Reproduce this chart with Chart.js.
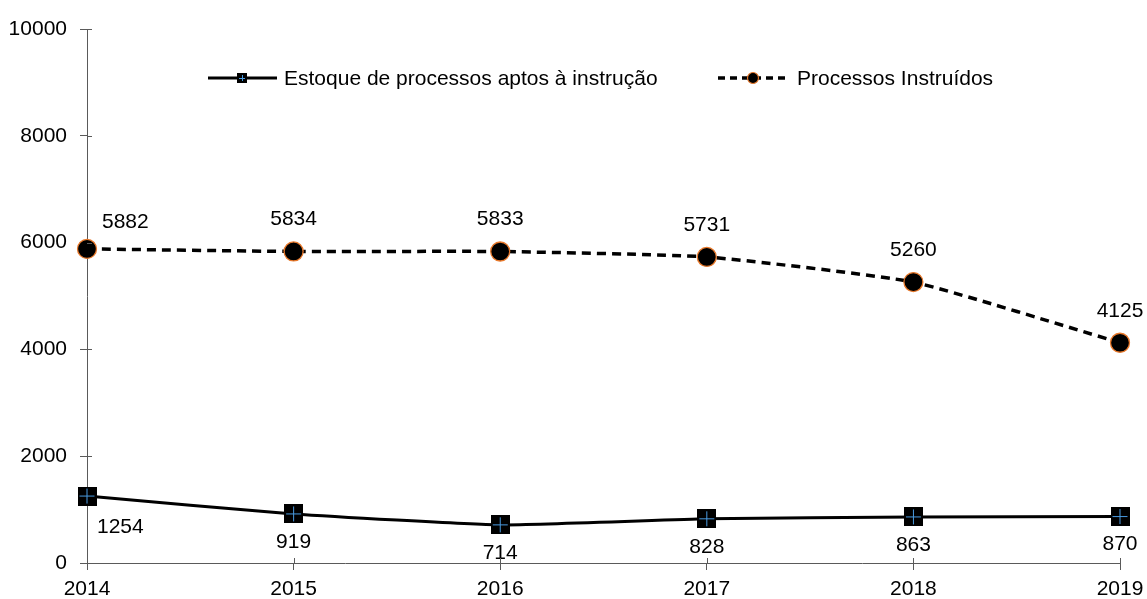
<!DOCTYPE html>
<html>
<head>
<meta charset="utf-8">
<script src="https://cdn.jsdelivr.net/npm/chart.js@4.4.1/dist/chart.umd.min.js"></script>
<style>
  html, body { margin: 0; padding: 0; background: #fff; }
  #wrap { width: 1147px; height: 599px; }
</style>
</head>
<body>
<div id="wrap"><canvas id="chart" width="1147" height="599"></canvas></div>
<script>
// data
const years = ['2014', '2015', '2016', '2017', '2018', '2019'];
const estoque = [1254, 919, 714, 828, 863, 870];
const instruidos = [5882, 5834, 5833, 5731, 5260, 4125];
const seriesNames = ['Estoque de processos aptos à instrução', 'Processos Instruídos'];
const yMin = 0, yMax = 10000, yStep = 2000;

const FONT = "'Liberation Sans', Arial, sans-serif";
const FSIZE = 21;
const AXIS = '#5a5a5a';
const ORANGE = '#E8782A';
const BLUE = '#4A9BE0';

// square marker with a thin blue cross, as in the original
function squareMarker(side) {
  const c = document.createElement('canvas');
  c.width = side; c.height = side;
  const g = c.getContext('2d');
  g.fillStyle = '#000';
  g.fillRect(0, 0, side, side);
  g.strokeStyle = BLUE;
  g.lineWidth = 1;
  const m = Math.floor(side / 2) + 0.5;
  g.beginPath();
  g.moveTo(m, 2); g.lineTo(m, side - 2);
  g.moveTo(2, m); g.lineTo(side - 2, m);
  g.stroke();
  return c;
}
const bigSquare = squareMarker(19);
const smallSquare = squareMarker(10);

// crossing ticks: Chart.js only draws the outer half
const innerTicks = {
  id: 'innerTicks',
  afterDraw(chart) {
    const { ctx, scales: { x, y }, chartArea } = chart;
    ctx.save();
    ctx.strokeStyle = AXIS;
    ctx.lineWidth = 1;
    ctx.beginPath();
    x.ticks.forEach((t, i) => {
      const px = Math.round(x.getPixelForTick(i)) + 0.5;
      ctx.moveTo(px, chartArea.bottom);
      ctx.lineTo(px, chartArea.bottom - 5);
    });
    y.ticks.forEach((t, i) => {
      const py = Math.round(y.getPixelForTick(i)) + 0.5;
      ctx.moveTo(chartArea.left, py);
      ctx.lineTo(chartArea.left + 5, py);
    });
    ctx.stroke();
    ctx.restore();
  }
};

// value labels: above for the dashed series, below for the solid one
const valueLabels = {
  id: 'valueLabels',
  afterDatasetsDraw(chart) {
    const ctx = chart.ctx;
    ctx.save();
    ctx.font = FSIZE + 'px ' + FONT;
    ctx.fillStyle = '#000';
    ctx.textBaseline = 'middle';
    chart.data.datasets.forEach((ds, di) => {
      const meta = chart.getDatasetMeta(di);
      meta.data.forEach((pt, i) => {
        const above = di === 1;
        let dx = 0, dy = above ? -32 : 28;
        ctx.textAlign = 'center';
        if (i === 0) {
          ctx.textAlign = 'left';
          dx = above ? 15 : 10;
          dy = above ? -27 : 31;
        }
        ctx.fillText(String(ds.data[i]), pt.x + dx, pt.y + dy);
      });
    });
    ctx.restore();
  }
};

// legend with line + marker samples like the spreadsheet one
const lineLegend = {
  id: 'lineLegend',
  afterDraw(chart) {
    const ctx = chart.ctx;
    const ly = 78;
    ctx.save();
    ctx.font = FSIZE + 'px ' + FONT;
    ctx.fillStyle = '#000';
    ctx.textBaseline = 'middle';
    ctx.textAlign = 'left';

    // solid series
    ctx.strokeStyle = '#000';
    ctx.lineWidth = 3;
    ctx.beginPath();
    ctx.moveTo(208, ly); ctx.lineTo(277, ly);
    ctx.stroke();
    ctx.drawImage(smallSquare, 237, ly - 5);
    ctx.fillText(seriesNames[0], 284, ly + 1);

    // dashed series
    ctx.setLineDash([7, 5]);
    ctx.lineWidth = 3.5;
    ctx.beginPath();
    ctx.moveTo(718, ly); ctx.lineTo(790, ly);
    ctx.stroke();
    ctx.setLineDash([]);
    ctx.beginPath();
    ctx.arc(753, ly, 5.5, 0, Math.PI * 2);
    ctx.fillStyle = '#000';
    ctx.fill();
    ctx.strokeStyle = ORANGE;
    ctx.lineWidth = 1.2;
    ctx.stroke();
    ctx.fillStyle = '#000';
    ctx.fillText(seriesNames[1], 797, ly + 1);
    ctx.restore();
  }
};

new Chart(document.getElementById('chart'), {
  type: 'line',
  data: {
    labels: years,
    datasets: [{
      label: seriesNames[0],
      data: estoque,
      borderColor: '#000',
      borderWidth: 3,
      tension: 0.15,
      pointStyle: bigSquare,
      pointRadius: 10
    }, {
      label: seriesNames[1],
      data: instruidos,
      borderColor: '#000',
      borderWidth: 3.5,
      borderDash: [9, 6],
      tension: 0.15,
      pointStyle: 'circle',
      pointRadius: 9.5,
      pointBackgroundColor: '#000',
      pointBorderColor: ORANGE,
      pointBorderWidth: 1.3
    }]
  },
  options: {
    responsive: false,
    animation: false,
    layout: { padding: { top: 29, right: 27, left: 0, bottom: 0 } },
    plugins: {
      legend: { display: false },
      tooltip: { enabled: false }
    },
    scales: {
      x: {
        offset: false,
        grid: { drawOnChartArea: false, drawTicks: true, tickLength: 7, color: AXIS },
        border: { display: true, color: AXIS, width: 1 },
        ticks: { color: '#000', font: { family: FONT, size: FSIZE }, padding: 7, maxRotation: 0 },
        afterFit: s => { s.height = 36; s.paddingLeft = 0; s.paddingRight = 0; }
      },
      y: {
        min: yMin, max: yMax,
        grid: { drawOnChartArea: false, drawTicks: true, tickLength: 7, color: AXIS },
        border: { display: true, color: AXIS, width: 1 },
        ticks: { stepSize: yStep, color: '#000', font: { family: FONT, size: FSIZE }, padding: 13,
                 callback: v => String(v) },
        afterFit: s => { s.width = 87; }
      }
    }
  },
  plugins: [innerTicks, valueLabels, lineLegend]
});
</script>
</body>
</html>
